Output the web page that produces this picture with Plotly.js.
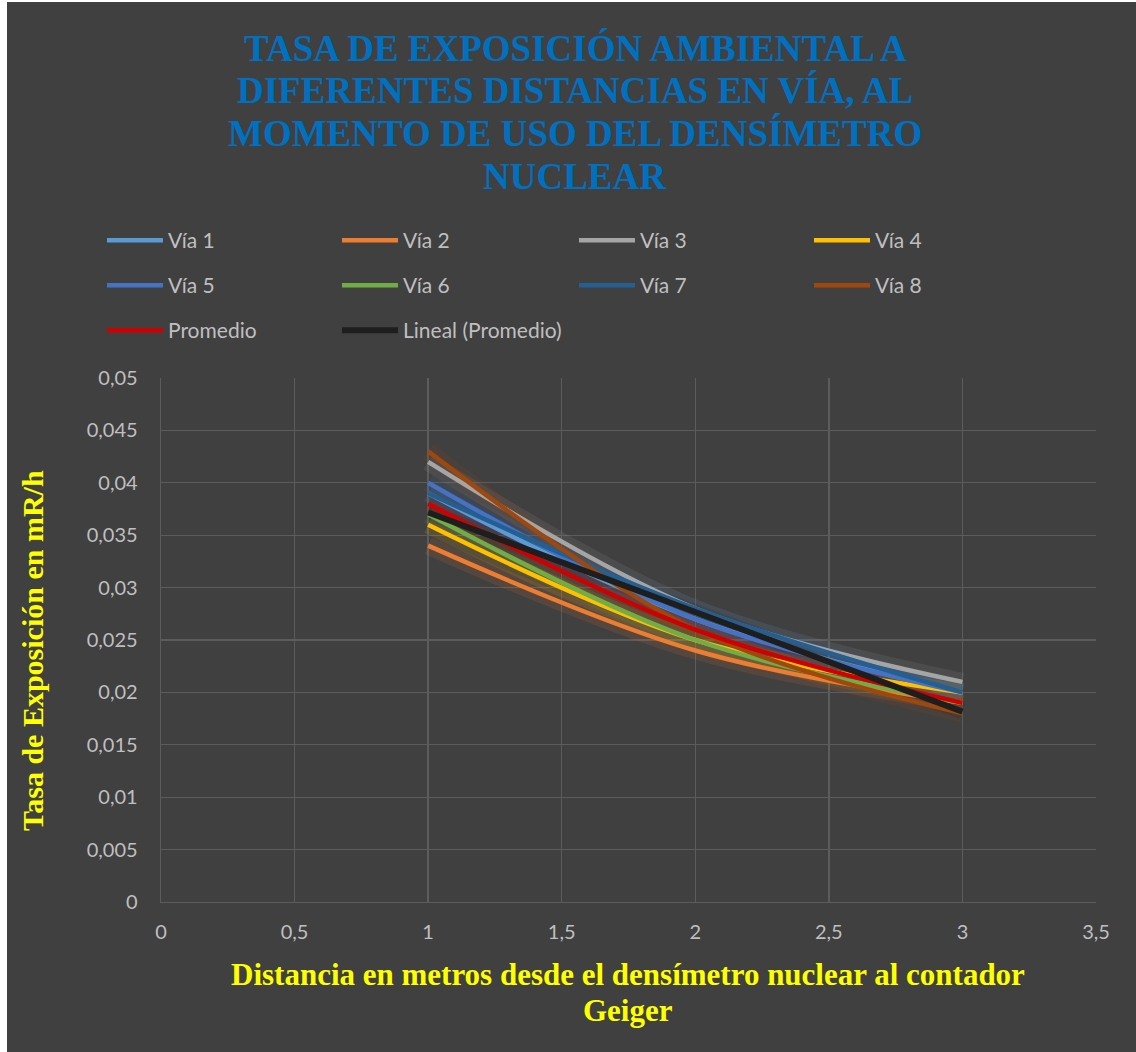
<!DOCTYPE html>
<html><head><meta charset="utf-8">
<script src="https://cdn.plot.ly/plotly-3.0.1.min.js"></script>
<style>html,body{margin:0;padding:0;background:#ffffff;}#chart{position:absolute;left:7px;top:2px;width:1129px;height:1050px;}</style>
</head><body><div id="chart"></div>
<script>
const distances = [1, 2, 3];
const via1 = [0.039, 0.027, 0.020];
const via2 = [0.034, 0.024, 0.019];
const via3 = [0.042, 0.028, 0.021];
const via4 = [0.036, 0.025, 0.020];
const via5 = [0.040, 0.027, 0.020];
const via6 = [0.037, 0.025, 0.019];
const via7 = [0.039, 0.028, 0.020];
const via8 = [0.043, 0.026, 0.018];
const promedio = [0.038, 0.026, 0.019];
const seriesNames = ['Vía 1','Vía 2','Vía 3','Vía 4','Vía 5','Vía 6','Vía 7','Vía 8','Promedio'];
const seriesData = [via1, via2, via3, via4, via5, via6, via7, via8, promedio];
const seriesColors = ['#5B9BD5','#ED7D31','#A5A5A5','#FFC000','#4472C4','#70AD47','#255E91','#9E480E','#D00000'];
const trendName = 'Lineal (Promedio)';
const yTickVals = [0,0.005,0.01,0.015,0.02,0.025,0.03,0.035,0.04,0.045,0.05];
const yTickText = ['0','0,005','0,01','0,015','0,02','0,025','0,03','0,035','0,04','0,045','0,05'];
const xTickVals = [0,0.5,1,1.5,2,2.5,3,3.5];
const xTickText = ['0','0,5','1','1,5','2','2,5','3','3,5'];
const titleLines = ['TASA DE EXPOSICIÓN AMBIENTAL A','DIFERENTES DISTANCIAS EN VÍA, AL','MOMENTO DE USO DEL DENSÍMETRO','NUCLEAR'];
const xTitleLines = ['Distancia en metros desde el densímetro nuclear al contador','Geiger'];
const yTitle = 'Tasa de Exposición en mR/h';

// least-squares linear trend of Promedio (Excel "Lineal (Promedio)")
const n = distances.length;
const mx = distances.reduce((a,b)=>a+b,0)/n;
const my = promedio.reduce((a,b)=>a+b,0)/n;
let sxy=0, sxx=0;
for(let i=0;i<n;i++){sxy+=(distances[i]-mx)*(promedio[i]-my);sxx+=(distances[i]-mx)**2;}
const slope = sxy/sxx, icpt = my - slope*mx;
const trendX = [distances[0], distances[n-1]];
const trendY = trendX.map(x=>icpt+slope*x);

const legendIds = ['legend','legend2','legend3','legend4','legend5','legend6','legend7','legend8','legend9','legend10'];

const traces = [];
seriesData.forEach((d,i)=>{
  traces.push({x:distances,y:d,type:'scatter',mode:'lines',showlegend:false,hoverinfo:'skip',
    line:{color:seriesColors[i],width:18,shape:'spline'},opacity:0.12});
});
traces.push({x:trendX,y:trendY,type:'scatter',mode:'lines',showlegend:false,hoverinfo:'skip',
    line:{color:'#000000',width:16},opacity:0.08});
seriesData.forEach((d,i)=>{
  traces.push({x:distances,y:d,type:'scatter',mode:'lines',name:seriesNames[i],legend:legendIds[i],
    line:{color:seriesColors[i],width:4.5,shape:'spline'}});
});
traces.push({x:trendX,y:trendY,type:'scatter',mode:'lines',name:trendName,legend:legendIds[9],
  line:{color:'#1E1E1E',width:6}});

// plot area: px 161..1096 horizontally, 378..900 vertically (page coords)
const PX0=161, PX1=1096, PY0=378, PY1=900;
const px = x => (x-PX0)/(PX1-PX0);
const py = y => (PY1-y)/(PY1-PY0);

const serif = '"Liberation Serif", "Times New Roman", serif';
const annotations = [];
const titleY = [50, 92, 134, 177];
titleLines.forEach((t,i)=>annotations.push({text:'<b>'+t+'</b>', xref:'paper', yref:'paper', x:px(575), y:py(titleY[i]),
  xanchor:'center', yanchor:'middle', showarrow:false, font:{family:serif, size:37, color:'#0070C0'}}));
const xtY = [972, 1008];
xTitleLines.forEach((t,i)=>annotations.push({text:'<b>'+t+'</b>', xref:'paper', yref:'paper', x:px(628), y:py(xtY[i]),
  xanchor:'center', yanchor:'middle', showarrow:false, font:{family:serif, size:31, color:'#FFFF00'}}));
annotations.push({text:'<b>'+yTitle+'</b>', xref:'paper', yref:'paper', x:px(32), y:py(650), textangle:-90,
  xanchor:'center', yanchor:'middle', showarrow:false, font:{family:serif, size:30, color:'#FFFF00'}});

const tickFont = {family:'Lato, "Open Sans", sans-serif', size:20, color:'#BFBFBF'};
const legFont = {family:'Lato, "Open Sans", sans-serif', size:21, color:'#BFBFBF'};
const colX = [108, 343, 580, 815];
const rowY = [220, 265, 310];
function leg(k){
  const c = k % 4, r = Math.floor(k/4);
  return {orientation:'h', xref:'container', yref:'container', x:(colX[c]-6-7)/1129, y:1-(rowY[r]-2)/1050,
    xanchor:'left', yanchor:'top', font:legFont, bgcolor:'rgba(0,0,0,0)', itemwidth:56};
}
const layout = {
  paper_bgcolor:'#404040', plot_bgcolor:'#404040',
  margin:{l:154,r:40,t:376,b:150},
  annotations:annotations,
  xaxis:{range:[0,3.5], tickvals:xTickVals, ticktext:xTickText, showgrid:true, gridcolor:'#5C5C5C', gridwidth:1.3,
    zeroline:false, showline:true, linecolor:'#5C5C5C', linewidth:1.3, ticks:'', tickfont:tickFont, ticklabelstandoff:12},
  yaxis:{range:[0,0.05], tickvals:yTickVals, ticktext:yTickText, showgrid:true, gridcolor:'#5C5C5C', gridwidth:1.3,
    zeroline:false, showline:true, linecolor:'#5C5C5C', linewidth:1.3, ticks:'', tickfont:tickFont, ticklabelstandoff:18},
  showlegend:true
};
legendIds.forEach((id,k)=>{ layout[id] = leg(k); });
Plotly.newPlot('chart', traces, layout, {displayModeBar:false, staticPlot:true});
</script></body></html>
